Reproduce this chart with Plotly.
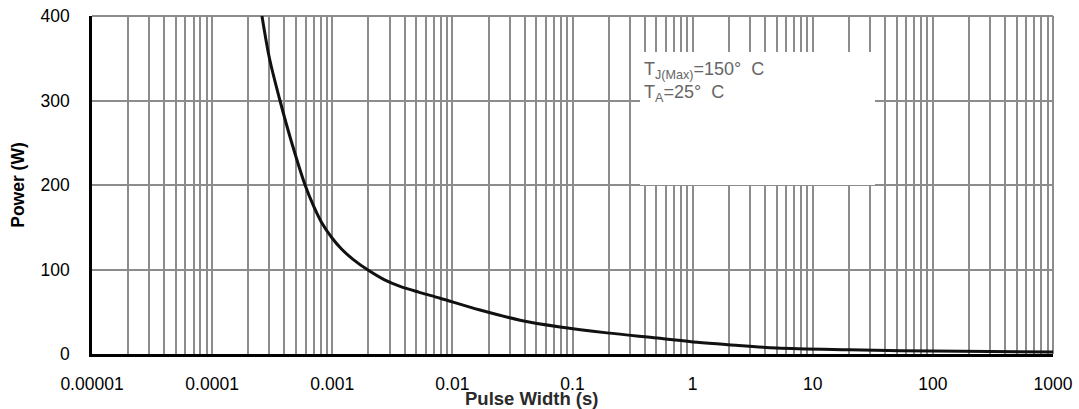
import plotly.graph_objects as go

# Data
pulse_width = [2.6e-4, 3.0e-4, 3.67e-4, 4.6e-4, 5.94e-4, 7.0e-4, 8.2e-4, 1.0e-3, 1.2e-3,
               1.49e-3, 2.0e-3, 2.7e-3, 3.67e-3, 5.3e-3, 7.9e-3, 0.017, 0.0366, 0.0788,
               0.194, 0.507, 1.09, 2, 5, 20, 100, 1000]
power = [400, 350, 300, 250, 200, 175, 155, 137, 124,
         112, 99, 88, 80, 73, 66, 52, 40, 32,
         25, 19, 14, 11, 7, 5, 3.5, 2.5]

decade_labels = ["0.00001", "0.0001", "0.001", "0.01", "0.1", "1", "10", "100", "1000"]
decade_values = [1e-5, 1e-4, 1e-3, 1e-2, 1e-1, 1, 10, 100, 1000]
y_ticks = [0, 100, 200, 300, 400]

# All 1..9 grid values per decade, labels only on decades
tickvals, ticktext = [], []
for d, lab in zip(decade_values, decade_labels):
    if d == 1000:
        tickvals.append(d); ticktext.append(lab)
        break
    for m in range(1, 10):
        tickvals.append(d * m)
        ticktext.append(lab if m == 1 else "")

FONT = "Liberation Sans, Arial, sans-serif"
GRID = "#8c8c8c"

fig = go.Figure()
fig.add_trace(go.Scatter(x=pulse_width, y=power, mode="lines",
                         line=dict(color="#111111", width=3, shape="spline", smoothing=0.9),
                         showlegend=False, hoverinfo="skip"))

fig.update_layout(
    width=1079, height=409,
    margin=dict(l=92, r=26, t=16, b=55),
    paper_bgcolor="white", plot_bgcolor="white",
    font=dict(family=FONT, size=17.5, color="#000000"),
    xaxis=dict(type="log", range=[-5, 3], tickvals=tickvals, ticktext=ticktext,
               automargin=False,
               showgrid=True, gridcolor=GRID, gridwidth=1.5,
               showline=True, linecolor="#000000", linewidth=2.5, mirror=False,
               ticks="", ticklabelstandoff=12, zeroline=False,
               tickfont=dict(family=FONT, size=17.5, color="#000000")),
    yaxis=dict(range=[0, 400], tickvals=y_ticks, showgrid=True, gridcolor=GRID,
               automargin=False,
               gridwidth=1.5, showline=True, linecolor="#000000", linewidth=2.5,
               ticks="", ticklabelstandoff=16, zeroline=False,
               tickfont=dict(family=FONT, size=17.5, color="#000000"),
               title=dict(text="<b>Power (W)</b>", standoff=12,
                          font=dict(family=FONT, size=17.5, color="#000000"))),
)

# top and right frame lines (gray, like grid)
fig.add_shape(type="line", xref="paper", yref="paper", x0=0, x1=1, y0=1, y1=1,
              line=dict(color=GRID, width=2), layer="below")
fig.add_shape(type="line", xref="paper", yref="paper", x0=1, x1=1, y0=0, y1=1,
              line=dict(color=GRID, width=2), layer="below")

# white annotation box covering the grid
fig.add_annotation(xref="paper", yref="paper", x=(640 - 92) / 961, y=(354 - 52) / 338,
                   xanchor="left", yanchor="top", showarrow=False, text=" ",
                   width=235, height=133, bgcolor="white", borderpad=0, borderwidth=0)

fig.add_annotation(xref="paper", yref="paper", x=(642 - 92) / 961, y=(354 - 57) / 338,
                   xanchor="left", yanchor="top", align="left", showarrow=False,
                   text="T<sub>J(Max)</sub>=150°  C<br>T<sub>A</sub>=25°  C",
                   font=dict(family=FONT, size=18, color="#666666"))

# x-axis title placed near the bottom edge
fig.add_annotation(xref="paper", yref="paper", x=(531 - 92) / 961, y=-(398 - 354) / 338,
                   xanchor="center", yanchor="middle", showarrow=False,
                   text="<b>Pulse Width (s)</b>",
                   font=dict(family=FONT, size=18.5, color="#2a2a2a"))

fig.write_html("out.html", config={"displayModeBar": False},
               post_script="document.body.style.margin='0';document.body.style.overflow='hidden';")
